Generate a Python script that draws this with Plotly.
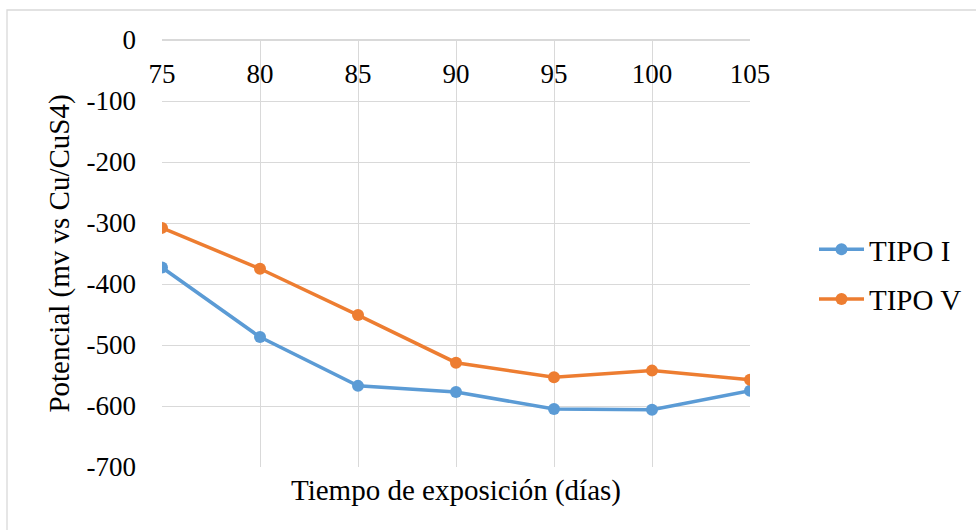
import plotly.graph_objects as go

dias = [75, 80, 85, 90, 95, 100, 105]
tipo_i = [-373, -487, -567, -577, -605, -606, -575]
tipo_v = [-308, -375, -451, -529, -553, -542, -557]
y_ticks = [0, -100, -200, -300, -400, -500, -600, -700]
y_labels = ["0", "-100", "-200", "-300", "-400", "-500", "-600", "-700"]

FONT = "Liberation Serif, Times New Roman, serif"
GRID = "#D9D9D9"
W, H = 976, 530
L, R, T, B = 162, 226, 40, 63
PW = W - L - R
PH = H - T - B
TICK = 27
BIG = 29

fig = go.Figure()
fig.add_trace(go.Scatter(x=dias, y=tipo_i, name="TIPO I", mode="lines+markers",
                         line=dict(color="#5B9BD5", width=3.5),
                         marker=dict(size=12, color="#5B9BD5"), legendgroup="a"))
fig.add_trace(go.Scatter(x=dias, y=tipo_v, name="TIPO V", mode="lines+markers",
                         line=dict(color="#ED7D31", width=3.5),
                         marker=dict(size=12, color="#ED7D31"), legendgroup="b"))
# invisible trace carrying the top axis labels
fig.add_trace(go.Scatter(x=dias, y=tipo_i, xaxis="x2", mode="markers",
                         marker=dict(opacity=0), showlegend=False, hoverinfo="skip"))

fig.update_layout(
    width=W, height=H,
    margin=dict(l=L, r=R, t=T, b=B, autoexpand=False),
    paper_bgcolor="white", plot_bgcolor="white",
    font=dict(family=FONT, size=TICK, color="black"),
    xaxis=dict(range=[75, 105], tickvals=dias, showticklabels=False,
               showgrid=True, gridcolor=GRID, gridwidth=1.3, zeroline=False,
               showline=False,
               title=dict(text="Tiempo de exposición (días)", standoff=12,
                          font=dict(family=FONT, size=BIG))),
    xaxis2=dict(range=[75, 105], overlaying="x", anchor="free", position=1,
                side="bottom", tickvals=dias,
                ticktext=[str(d) for d in dias],
                ticklabelstandoff=10,
                showgrid=False, zeroline=False, showline=True, linecolor=GRID,
                linewidth=1.5, ticks="", tickfont=dict(family=FONT, size=TICK)),
    yaxis=dict(range=[-700, 0], tickvals=y_ticks, ticktext=y_labels,
               showgrid=True, gridcolor=GRID,
               gridwidth=1.3, zeroline=False, showline=False, ticks="",
               ticklabelstandoff=25,
               tickfont=dict(family=FONT, size=TICK),
               title=dict(text="Potencial (mv vs Cu/CuS4)", standoff=8,
                          font=dict(family=FONT, size=BIG))),
    legend=dict(x=(814 - L) / PW, xanchor="left", y=(H - B - 224) / PH, yanchor="top",
                font=dict(family=FONT, size=BIG), tracegroupgap=9, itemwidth=45,
                traceorder="grouped", bgcolor="rgba(0,0,0,0)"),
    shapes=[dict(type="rect", xref="paper", yref="paper",
                 x0=(7 - L) / PW, x1=(W + 5 - L) / PW,
                 y0=(H - B - (H + 5)) / PH, y1=(H - B - 10) / PH,
                 line=dict(color=GRID, width=1.3), layer="below")],
)

fig.write_html("out.html")
